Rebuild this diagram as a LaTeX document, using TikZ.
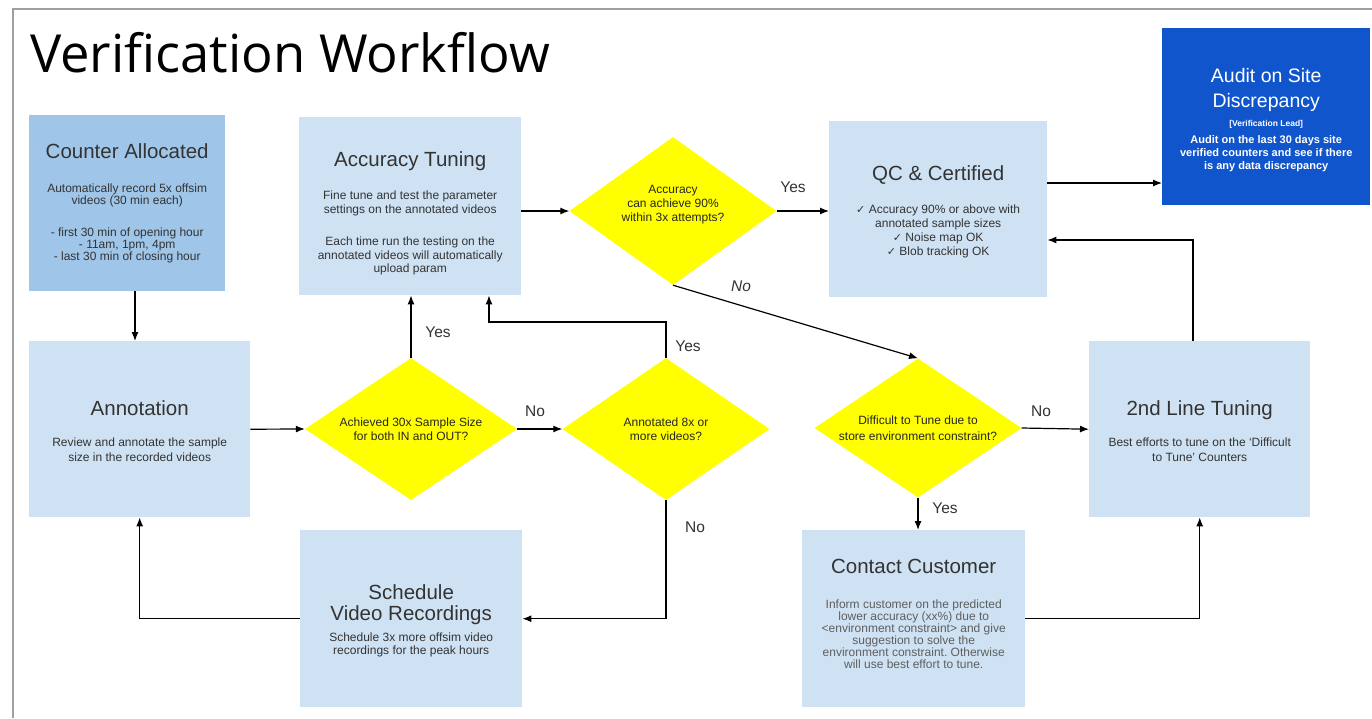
\documentclass[tikz,border=0pt]{standalone}
\usepackage{fontspec}
\setmainfont{Liberation Sans}
\newfontfamily\titlefont{Open Sans}
\newfontfamily\symfont{DejaVu Sans}
\usetikzlibrary{shapes.geometric,arrows.meta}
\frenchspacing

\definecolor{boxlight}{HTML}{CFE2F3}
\definecolor{boxmid}{HTML}{9FC5E8}
\definecolor{boxdark}{HTML}{1155CC}
\definecolor{decision}{HTML}{FFFF00}
\definecolor{inktext}{HTML}{333333}
\definecolor{softtext}{HTML}{5E5E5E}
\definecolor{framegray}{HTML}{A0A0A0}

\newcommand\boxtitle[1]{{\fontsize{20.5}{24}\selectfont #1}}
\newcommand\tick{{\symfont\fontsize{11}{12}\selectfont ✓}}

\begin{document}
\begin{tikzpicture}[x=1pt,y=-1pt,
  box/.style={rectangle, fill=boxlight, anchor=north west, align=center,
    text=inktext, inner sep=0pt, font=\fontsize{12}{12}\selectfont},
  decide/.style={diamond, aspect=1.4, fill=decision, align=center, inner sep=0pt,
    text=black!85, font=\fontsize{12}{14}\selectfont},
  arr/.style={-{Latex[length=9pt,width=7pt]}, line width=1.2pt, black},
  lbl/.style={font=\fontsize{15.5}{16}\selectfont, text=inktext}]

\useasboundingbox (0,0) rectangle (1372,718);
\fill[white] (0,0) rectangle (1372,718);

% page frame
\draw[framegray, line width=1.2pt] (13,718) -- (13,9) -- (1372,9);

% heading
\node[anchor=base west, inner sep=0pt, font=\titlefont\fontsize{52.5}{52}\selectfont]
  (heading) at (30,72) {Verification Workflow};

% process boxes
\node[box, fill=boxmid, minimum width=196pt, minimum height=176pt] (counter) at (29,115)
  {\boxtitle{Counter Allocated}\\[22pt]
   Automatically record 5x offsim\\videos (30 min each)\\[20pt]
   - first 30 min of opening hour\\- 11am, 1pm, 4pm\\- last 30 min of closing hour};

\node[box, minimum width=222pt, minimum height=178pt, font=\fontsize{12}{13.5}\selectfont] (tune) at (299,117)
  {\boxtitle{\rule{0pt}{29pt}Accuracy Tuning}\\[20pt]
   Fine tune and test the parameter\\settings on the annotated videos\\[19pt]
   Each time run the testing on the\\annotated videos will automatically\\upload param};

\node[box, minimum width=218pt, minimum height=176pt, font=\fontsize{12}{14}\selectfont] (qc) at (829,121)
  {\boxtitle{\rule{0pt}{20pt}QC \& Certified}\\[19pt]
   \tick{} Accuracy 90\% or above with\\annotated sample sizes\\
   \tick{} Noise map OK\\\tick{} Blob tracking OK};

\node[box, fill=boxdark, text=white, minimum width=208pt, minimum height=177pt,
      font=\bfseries\fontsize{11}{13}\selectfont] (audit) at (1162,28)
  {{\mdseries\fontsize{19.5}{24}\selectfont\rule{0pt}{21pt}Audit on Site}\\[9pt]
   {\mdseries\fontsize{19.5}{24}\selectfont Discrepancy}\\[6pt]
   {\fontsize{8.5}{10}\selectfont [Verification Lead]}\\[4pt]
   Audit on the last 30 days site\\verified counters and see if there\\is any data discrepancy};

\node[box, minimum width=221pt, minimum height=176pt, font=\fontsize{12}{15}\selectfont] (annot) at (29,341)
  {\boxtitle{\rule{0pt}{18pt}Annotation}\\[16pt]
   Review and annotate the sample\\size in the recorded videos};

\node[box, minimum width=221pt, minimum height=176pt, font=\fontsize{12}{15}\selectfont] (tune2) at (1089,341)
  {\boxtitle{\rule{0pt}{18pt}2nd Line Tuning}\\[16pt]
   Best efforts to tune on the `Difficult\\to Tune' Counters};

\node[box, minimum width=222pt, minimum height=177pt, font=\fontsize{12}{13}\selectfont] (sched) at (300,530)
  {\boxtitle{\rule{0pt}{20pt}Schedule}\\[5pt]\boxtitle{Video Recordings}\\[8pt]
   Schedule 3x more offsim video\\recordings for the peak hours};

\node[box, text=softtext, minimum width=223pt, minimum height=177pt] (contact) at (802,530)
  {{\color{inktext}\boxtitle{Contact Customer}}\\[23pt]
   Inform customer on the predicted\\lower accuracy (xx\%) due to\\
   <environment constraint> and give\\suggestion to solve the\\
   environment constraint. Otherwise\\will use best effort to tune.\rule[-10pt]{0pt}{1pt}};

% decisions
\node[decide, minimum width=207pt, minimum height=148pt] (acc) at (673,211)
  {Accuracy\\can achieve 90\%\\within 3x attempts?\rule[-15pt]{0pt}{1pt}};
\node[decide, minimum width=212pt, minimum height=142pt] (sample) at (411,429)
  {Achieved 30x Sample Size\\for both IN and OUT?};
\node[decide, minimum width=207pt, minimum height=142pt] (eight) at (666,429)
  {Annotated 8x or\\more videos?};
\node[decide, minimum width=207pt, minimum height=139pt, font=\fontsize{12}{16}\selectfont] (hard) at (918,428)
  {Difficult to Tune due to\\store environment constraint?};

% routing points
\coordinate (xa) at (135,0);
\coordinate (xb) at (489,322);
\coordinate (ya) at (0,183);
\coordinate (yb) at (0,240);
\coordinate (xc) at (1193,0);

% connectors
\draw[arr] (counter.south -| xa) -- (annot.north -| xa);
\draw[arr] (annot.east) -- (sample.west);
\draw[arr] (sample.east) -- (eight.west);
\draw[arr] (sample.north) -- (tune.south -| sample.north);
\draw[arr] (eight.north) |- (xb) -- (tune.south -| xb);
\draw[arr] (eight.south) |- (sched.east);
\draw[arr] (sched.west) -| (annot.south);
\draw[arr] (tune.east |- acc.west) -- (acc.west);
\draw[arr] (acc.east) -- (qc.west |- acc.east);
\draw[arr] (acc.south) -- (hard.north);
\draw[arr] (qc.east |- ya) -- (audit.west |- ya);
\draw[arr] (tune2.north -| xc) |- (qc.east |- yb);
\draw[arr] (hard.east) -- (tune2.west);
\draw[arr] (hard.south) -- (contact.north -| hard.south);
\draw[arr] (contact.east) -| (tune2.south);

% branch labels
\node[lbl] (l1) at (438,332) {Yes};
\node[lbl] (l2) at (688,346) {Yes};
\node[lbl] (l3) at (535,411) {No};
\node[lbl] (l4) at (695,527) {No};
\node[lbl] (l5) at (793,187) {Yes};
\node[lbl, font=\itshape\fontsize{15.5}{16}\selectfont] (l6) at (741,286) {No};
\node[lbl] (l7) at (1041,411) {No};
\node[lbl] (l8) at (945,508) {Yes};
\end{tikzpicture}
\end{document}
